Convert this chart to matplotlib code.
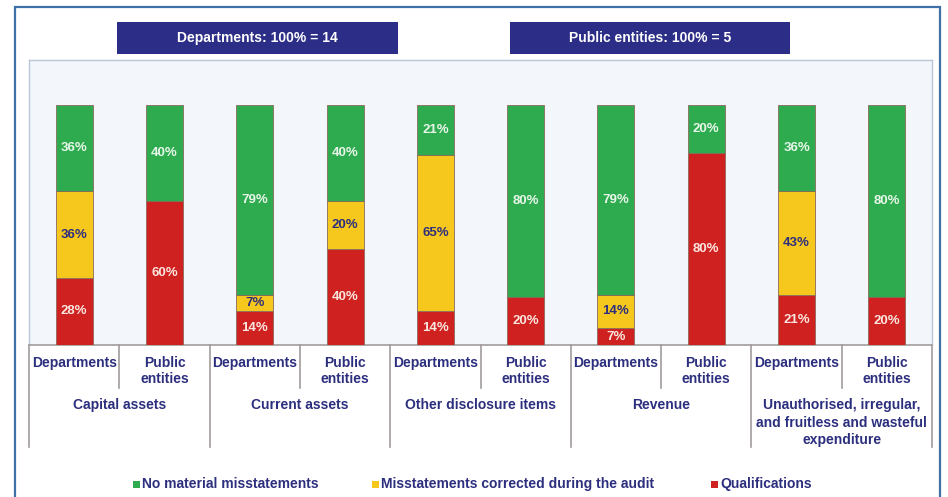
import matplotlib.pyplot as plt
import matplotlib.transforms as mtransforms
from matplotlib.patches import Rectangle
from matplotlib.lines import Line2D

plt.rcParams['font.family'] = ['Liberation Sans', 'DejaVu Sans']

groups = [
    "Capital assets",
    "Current assets",
    "Other disclosure items",
    "Revenue",
    "Unauthorised, irregular,\nand fruitless and wasteful\nexpenditure",
]
bar_labels = ["Departments", "Public\nentities"] * 5

# percentages per bar, bottom to top
qualifications = [28, 60, 14, 40, 14, 20, 7, 80, 21, 20]
corrected = [36, 0, 7, 20, 65, 0, 14, 0, 43, 0]
no_misstatements = [36, 40, 79, 40, 21, 80, 79, 20, 36, 80]

legend_labels = ["No material misstatements",
                 "Misstatements corrected during the audit",
                 "Qualifications"]
header_labels = ["Departments: 100% = 14", "Public entities: 100% = 5"]

GREEN = "#2fab4f"
YELLOW = "#f6c81e"
RED = "#cf2120"
NAVY = "#2c2e7e"
BOX = "#2b2d86"

W, H = 948, 497
fig = plt.figure(figsize=(W / 100, H / 100), dpi=100)
fig.patch.set_facecolor("white")


def fx(px):
    return px / W


def fy(py):
    return 1 - py / H


# outer frame
fig.add_artist(Rectangle((fx(15), fy(500)), fx(940) - fx(15), fy(7) - fy(500),
                         transform=fig.transFigure, facecolor="white",
                         edgecolor="#3f70a8", lw=1.6, zorder=0))

ax = fig.add_axes([fx(29), fy(345), fx(932) - fx(29), fy(60) - fy(345)])
ax.set_facecolor("#f3f6fa")
for side in ["top", "left", "right"]:
    ax.spines[side].set_color("#b9c6d8")
    ax.spines[side].set_linewidth(1.0)
ax.spines["bottom"].set_color("#a29c9c")
ax.spines["bottom"].set_linewidth(1.2)
ax.set_xlim(-0.5, 9.5)
ax.set_ylim(0, 118.75)
ax.set_xticks([])
ax.set_yticks([])

x = list(range(len(qualifications)))
width = 0.41
bottoms2 = [q + c for q, c in zip(qualifications, corrected)]
segments = [
    (qualifications, [0] * 10, RED, "#fbe7e0"),
    (corrected, qualifications, YELLOW, NAVY),
    (no_misstatements, bottoms2, GREEN, "#e8f6ea"),
]
for vals, bots, color, tcolor in segments:
    bars = ax.bar(x, vals, width, bottom=bots, color=color,
                  edgecolor="#8a6a5a", linewidth=0.6, zorder=3)
    for rect, v in zip(bars, vals):
        if v <= 0:
            continue
        cx = rect.get_x() + rect.get_width() / 2
        cy = rect.get_y() + rect.get_height() / 2
        ax.text(cx, cy, f"{v}%", ha="center", va="center", color=tcolor,
                fontsize=9.5, fontweight="bold", zorder=4)

# category axis below the plot
tr = mtransforms.blended_transform_factory(ax.transData, fig.transFigure)
for i, lab in enumerate(bar_labels):
    ax.text(i, fy(356), lab, transform=tr, ha="center", va="top",
            color=NAVY, fontsize=10, fontweight="bold", linespacing=1.2)
for i in range(5):
    ax.add_artist(Line2D([2 * i + 0.5] * 2, [fy(345), fy(388)], transform=tr,
                         color="#a29c9c", lw=1.2, clip_on=False))
for b in [-0.5, 1.5, 3.5, 5.5, 7.5, 9.5]:
    ax.add_artist(Line2D([b, b], [fy(345), fy(447)], transform=tr,
                         color="#a29c9c", lw=1.2, clip_on=False))
for i, g in enumerate(groups):
    ax.text(2 * i + 0.5, fy(398), g, transform=tr, ha="center", va="top",
            color=NAVY, fontsize=10, fontweight="bold", linespacing=1.32)

# header boxes
for (x0, x1), lab in zip([(117, 398), (510, 790)], header_labels):
    fig.add_artist(Rectangle((fx(x0), fy(54)), fx(x1) - fx(x0), fy(22) - fy(54),
                             transform=fig.transFigure, facecolor=BOX,
                             edgecolor="none"))
    fig.text(fx((x0 + x1) / 2), fy(38), lab, ha="center", va="center",
             color="white", fontsize=10, fontweight="bold")

# legend
for sx, color, lab in zip([133, 372, 711], [GREEN, YELLOW, RED], legend_labels):
    fig.add_artist(Rectangle((fx(sx), fy(488)), fx(7), 7 / H,
                             transform=fig.transFigure, facecolor=color,
                             edgecolor="none"))
    fig.text(fx(sx + 9), fy(484), lab, ha="left", va="center",
             color=NAVY, fontsize=10, fontweight="bold")

fig.savefig("out.png", dpi=100)
